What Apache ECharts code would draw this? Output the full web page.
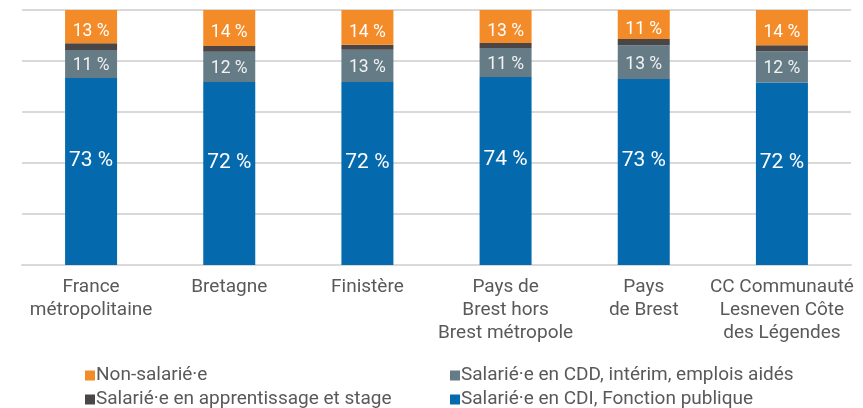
<!DOCTYPE html>
<html>
<head>
<meta charset="utf-8">
<script src="https://cdn.jsdelivr.net/npm/echarts@6/dist/echarts.min.js"></script>
<style>
  html, body { margin: 0; padding: 0; background: #fff; }
  #chart { width: 863px; height: 408px; }
</style>
</head>
<body>
<div id="chart"></div>
<script>
// territories
var categories = [
  "France\nmétropolitaine",
  "Bretagne",
  "Finistère",
  "Pays de\nBrest hors\nBrest métropole",
  "Pays\nde Brest",
  "CC Communauté\nLesneven Côte\ndes Légendes"
];

// shares in %
var cdi = [73.3, 71.8, 71.8, 73.7, 72.9, 71.6];
var cdd = [11.0, 11.8, 12.6, 11.4, 13.3, 12.2];
var apprentissage = [2.7, 2.3, 2.0, 2.0, 2.4, 2.4];
var nonSalarie = [13.0, 14.1, 13.6, 12.9, 11.4, 13.8];

var names = [
  "Salarié·e en CDI, Fonction publique",
  "Salarié·e en CDD, intérim, emplois aidés",
  "Salarié·e en apprentissage et stage",
  "Non-salarié·e"
];

var font = "Roboto";
var chart = echarts.init(document.getElementById("chart"));

function pct(p) {
  return Math.round(p.value) + " %";
}

function bar(name, data, color, label) {
  return {
    name: name,
    type: "bar",
    stack: "total",
    barWidth: 52,
    data: data,
    itemStyle: { color: color },
    label: label,
    animation: false
  };
}

// one legend per entry, laid out in two columns
function legendItem(name, left, top) {
  return {
    left: left,
    top: top,
    itemWidth: 10,
    itemHeight: 10,
    icon: "rect",
    data: [name],
    textStyle: { fontFamily: font, fontSize: 19, color: "#595959", padding: [0, 0, 0, -4] }
  };
}

chart.setOption({
  textStyle: { fontFamily: font },
  grid: { left: 22, right: 12, top: 10, bottom: 143 },
  legend: [
    legendItem(names[3], 80, 361),
    legendItem(names[2], 80, 385),
    legendItem(names[1], 445, 361),
    legendItem(names[0], 445, 385)
  ],
  xAxis: {
    type: "category",
    data: categories,
    axisTick: { show: false },
    axisLine: { lineStyle: { color: "#d9d9d9", width: 2 } },
    axisLabel: {
      interval: 0,
      margin: 11,
      fontFamily: font,
      fontSize: 19,
      lineHeight: 23,
      color: "#595959"
    }
  },
  yAxis: {
    type: "value",
    min: 0,
    max: 100,
    interval: 20,
    axisLabel: { show: false },
    axisLine: { show: false },
    axisTick: { show: false },
    splitLine: { lineStyle: { color: "#d9d9d9", width: 2 } }
  },
  series: [
    bar(names[0], cdi, "#0569ad", {
      show: true, formatter: pct, color: "#fff", fontSize: 21, fontFamily: font, offset: [0, -11]
    }),
    bar(names[1], cdd, "#657c87", {
      show: true, formatter: pct, color: "#f2f2f2", fontSize: 17.5, fontFamily: font, offset: [0, 2]
    }),
    bar(names[2], apprentissage, "#4a4547", { show: false }),
    bar(names[3], nonSalarie, "#f48b29", {
      show: true, formatter: pct, color: "#fff", fontSize: 17.5, fontFamily: font, offset: [0, 5]
    })
  ]
});
</script>
</body>
</html>
